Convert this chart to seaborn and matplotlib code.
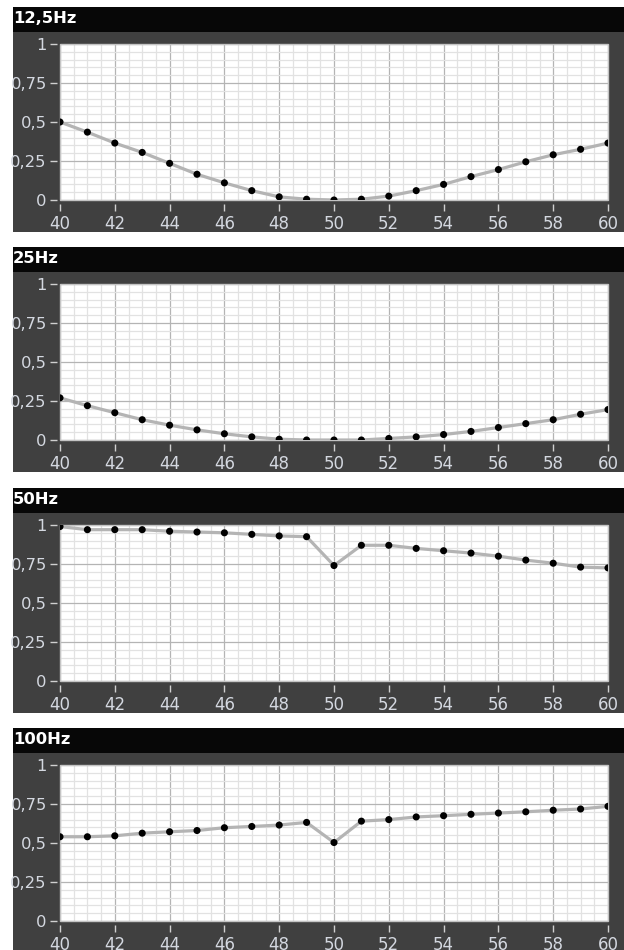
import matplotlib
matplotlib.use("Agg")
import matplotlib.pyplot as plt
import seaborn as sns
from matplotlib.patches import Rectangle
from matplotlib.ticker import MultipleLocator, FixedLocator, FixedFormatter

# Frequency axis shared by every panel
frequency = list(range(40, 61))

# Panel titles
titles = ["12,5Hz", "25Hz", "50Hz", "100Hz"]

# Normalised response per excitation frequency
resp_12_5 = [0.50, 0.435, 0.365, 0.305, 0.235, 0.165, 0.11, 0.06, 0.02, 0.005,
             0.0, 0.005, 0.025, 0.06, 0.10, 0.15, 0.195, 0.245, 0.29, 0.325, 0.365]
resp_25 = [0.27, 0.22, 0.175, 0.13, 0.095, 0.065, 0.04, 0.02, 0.005, 0.0,
           0.0, 0.0, 0.01, 0.02, 0.035, 0.055, 0.08, 0.105, 0.13, 0.165, 0.195]
resp_50 = [0.99, 0.97, 0.97, 0.97, 0.96, 0.955, 0.95, 0.94, 0.93, 0.925,
           0.74, 0.87, 0.87, 0.85, 0.835, 0.82, 0.80, 0.775, 0.755, 0.73, 0.725]
resp_100 = [0.54, 0.54, 0.546, 0.563, 0.572, 0.58, 0.598, 0.606, 0.615, 0.632,
            0.503, 0.64, 0.65, 0.667, 0.675, 0.684, 0.692, 0.70, 0.71, 0.718, 0.735]

series = [resp_12_5, resp_25, resp_50, resp_100]

# Tick values and their labels
x_ticks = list(range(40, 61, 2))
x_tick_labels = [str(v) for v in x_ticks]
y_ticks = [0, 0.25, 0.5, 0.75, 1]
y_tick_labels = ["0", "0,25", "0,5", "0,75", "1"]

plt.rcParams["font.family"] = ["DejaVu Sans"]

W, H = 624, 950
fig = plt.figure(figsize=(W / 100, H / 100), dpi=100)
fig.patch.set_facecolor("white")


def fx(px):
    return px / W


def fy(py):
    return 1 - py / H


panel_bg = "#404040"
bar_bg = "#070707"
label_col = "#d4d8e0"
tick_col = "#d0d0d0"

offsets = [0, 240, 481, 721]

for title, values, o in zip(titles, series, offsets):
    # dark frame of the panel
    fig.patches.append(Rectangle((fx(13), fy(o + 232)), fx(W - 13), 200 / H,
                                 transform=fig.transFigure, facecolor=panel_bg,
                                 edgecolor="none", zorder=-2))
    # black title bar
    fig.patches.append(Rectangle((fx(13), fy(o + 32)), fx(W - 13), 25 / H,
                                 transform=fig.transFigure, facecolor=bar_bg,
                                 edgecolor="none", zorder=-2))
    fig.text(fx(13), fy(o + 23), title, color="white", fontsize=11.8,
             fontweight="bold", ha="left", va="baseline")

    ax = fig.add_axes([fx(60), fy(o + 200), fx(548), 156 / H])
    ax.set_zorder(1)
    ax.set_facecolor("white")
    ax.set_axisbelow(True)

    sns.lineplot(x=frequency, y=values, ax=ax, color="#b4b4b4",
                 linewidth=2.3, zorder=3)
    sns.scatterplot(x=frequency, y=values, ax=ax, color="black", s=26,
                    edgecolor="none", linewidth=0, zorder=4)

    ax.set_xlim(40, 60)
    ax.set_ylim(0, 1)
    ax.set_xlabel("")
    ax.set_ylabel("")

    ax.xaxis.set_major_locator(FixedLocator(x_ticks))
    ax.xaxis.set_major_formatter(FixedFormatter(x_tick_labels))
    ax.yaxis.set_major_locator(FixedLocator(y_ticks))
    ax.yaxis.set_major_formatter(FixedFormatter(y_tick_labels))
    ax.xaxis.set_minor_locator(MultipleLocator(0.5))
    ax.yaxis.set_minor_locator(MultipleLocator(0.05))

    ax.grid(which="minor", color="#e2e2e2", linewidth=0.9)
    ax.grid(which="major", color="#b4b4b4", linewidth=0.9)

    for side in ["top", "right", "left", "bottom"]:
        ax.spines[side].set_visible(False)
    ax.spines["bottom"].set_position(("outward", 3))
    ax.spines["left"].set_position(("outward", 2))

    ax.add_patch(Rectangle((0, 0), 1, 1, transform=ax.transAxes, fill=False,
                           edgecolor="#c4c4c4", linewidth=1, zorder=2,
                           clip_on=False))

    ax.tick_params(axis="both", which="major", color=tick_col, length=5,
                   width=1, labelcolor=label_col, labelsize=12, pad=2.5)
    ax.tick_params(axis="y", which="major", labelsize=11.8)
    ax.tick_params(axis="both", which="minor", length=0)

fig.savefig("out.png", dpi=100, facecolor="white")
